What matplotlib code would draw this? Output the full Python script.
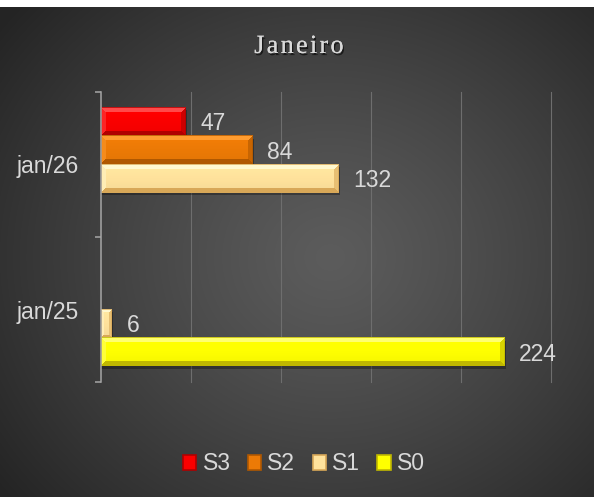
import numpy as np
import matplotlib
matplotlib.use("Agg")
import matplotlib.pyplot as plt
from matplotlib.patches import Rectangle
from matplotlib.colors import to_rgb
import matplotlib.patheffects as pe

# ---------------- data ----------------
categories = ["jan/25", "jan/26"]
series_names = ["S3", "S2", "S1", "S0"]
s3 = [0, 47]
s2 = [0, 84]
s1 = [6, 132]
s0 = [224, 0]
title = "Janeiro"

# ---------------- style ----------------
base_cols = {"S3": "#fa0000", "S2": "#ec7a06", "S1": "#ffe29c", "S0": "#ffff00"}
light_cols = {"S3": "#ff4a4a", "S2": "#ff9c30", "S1": "#fff8cf", "S0": "#ffff70"}
dark_cols = {"S3": "#b00000", "S2": "#b05800", "S1": "#d8a858", "S0": "#c0b800"}
txt_col = "#d9d9d9"

W, H = 595, 497
fig = plt.figure(figsize=(W / 100, H / 100), dpi=100)
fig.patch.set_facecolor("white")

# background with radial gradient
bg = fig.add_axes([0, 0, 594 / W, 490 / H], zorder=-10)
bg.set_axis_off()
yy, xx = np.mgrid[0:490, 0:594]
cx, cy = 330, 250
r = np.sqrt(((xx - cx) / 420.0) ** 2 + ((yy - cy) / 380.0) ** 2)
r = np.clip(r, 0, 1)
inner, outer = 0x5c, 0x24
v = (inner + (outer - inner) * r ** 1.2) / 255.0
bg.imshow(np.dstack([v, v, v]), aspect="auto", extent=(0, 1, 0, 1), origin="upper")
bg.set_xlim(0, 1)
bg.set_ylim(0, 1)

ax = fig.add_axes([101 / W, 1 - 382 / H, 450 / W, 290 / H])
ax.patch.set_alpha(0)

values = {"S3": s3, "S2": s2, "S1": s1, "S0": s0}
offsets = {"S3": 0.295, "S2": 0.098, "S1": -0.098, "S0": -0.295}
bh = 0.195

xmax = 250
px_per_unit = 450 / xmax
py_per_unit = 145.0


def bevel_image(wpx, hpx, name, b=5):
    base = np.array(to_rgb(base_cols[name]))
    light = np.array(to_rgb(light_cols[name]))
    dark = np.array(to_rgb(dark_cols[name]))
    ys, xs = np.mgrid[0:hpx, 0:wpx] + 0.5
    dt, db = ys, hpx - ys
    dl, dr = xs, wpx - xs
    d = np.stack([dt, db, dl, dr])
    which = np.argmin(d, axis=0)
    dmin = np.min(d, axis=0)
    f = (ys / hpx)[..., None]
    body = np.clip(base * (1.04 - 0.08 * f), 0, 1)
    edge_cols = [light, dark, 0.5 * light + 0.5 * base, 0.6 * dark + 0.4 * base]
    out = body.copy()
    inb = dmin < b
    for k, c in enumerate(edge_cols):
        m = inb & (which == k)
        out[m] = c
    ol = dmin < 1
    out[ol] = 0.75 * dark + 0.25 * out[ol]
    return np.clip(out, 0, 1)


def bevel_bar(yc, w, name):
    ax.barh(yc - 2.5 / py_per_unit, w + 1.5 / px_per_unit, height=bh, left=0,
            color="black", alpha=0.3, zorder=2, linewidth=0)
    wpx = max(int(round(w * px_per_unit)), 2)
    hpx = int(round(bh * py_per_unit))
    img = bevel_image(wpx, hpx, name, b=min(5, max(1, wpx // 3)))
    ax.imshow(img, extent=(0, w, yc - bh / 2, yc + bh / 2), aspect="auto",
              origin="upper", interpolation="nearest", zorder=3)


for name in series_names:
    for i, val in enumerate(values[name]):
        if val <= 0:
            continue
        yc = i + offsets[name]
        bevel_bar(yc, val, name)
        ax.annotate(f"{val}", xy=(val, yc), xytext=(10.5, -1.5),
                    textcoords="offset points", va="center", ha="left",
                    fontsize=16.5, color=txt_col, family="Liberation Sans",
                    zorder=6)

ax.set_xlim(0, xmax)
ax.set_ylim(-0.5, 1.5)
ax.set_xticks(np.arange(50, xmax + 1, 50))
ax.tick_params(axis="x", length=0, labelbottom=False)
ax.grid(axis="x", color="#6e6e6e", linewidth=0.8, zorder=0)
for gl in ax.get_xgridlines():
    gl.set_clip_on(False)
ax.set_axisbelow(True)

ax.set_yticks(range(len(categories)))
ax.set_yticklabels(categories, fontsize=16.5, color=txt_col, family="Liberation Sans")
ax.tick_params(axis="y", which="major", length=0, pad=16)
ax.set_yticks([-0.5, 0.5, 1.5], minor=True)
ax.tick_params(axis="y", which="minor", length=4.5, width=1.1, color="#a6a6a6",
               direction="out")

for s in ["top", "right", "bottom"]:
    ax.spines[s].set_visible(False)
ax.spines["left"].set_color("#a6a6a6")
ax.spines["left"].set_linewidth(1.1)
ax.spines["left"].set_zorder(5)

# title with letter spacing
spaced = "\u200a".join(list(title))
fig.text(299 / W, 1 - 53 / H, spaced, ha="center", va="baseline",
         fontsize=19, color=txt_col, family=["Liberation Serif", "DejaVu Serif"],
         path_effects=[pe.withSimplePatchShadow(offset=(1, -1.5), shadow_rgbFace="black", alpha=0.6),
                       pe.Normal()])

# legend
handles = [Rectangle((0, 0), 1, 1, facecolor=base_cols[n], edgecolor=dark_cols[n], linewidth=1.2)
           for n in series_names]
leg = fig.legend(handles, series_names, loc="center", bbox_to_anchor=(304 / W, 1 - 464 / H),
                 ncol=4, frameon=False, handlelength=0.58, handleheight=0.58,
                 handletextpad=0.28, columnspacing=0.75, borderaxespad=0,
                 prop={"family": "Liberation Sans", "size": 16.5})
for t in leg.get_texts():
    t.set_color(txt_col)

fig.savefig("out.png", dpi=100, facecolor=fig.get_facecolor())
